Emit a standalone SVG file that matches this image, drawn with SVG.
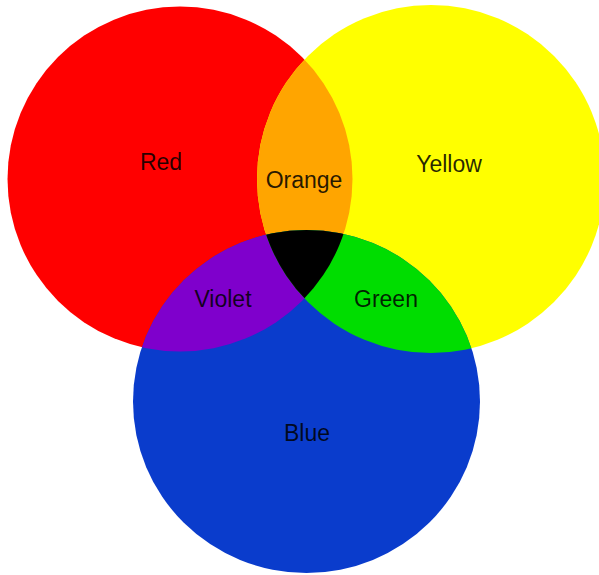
<svg xmlns="http://www.w3.org/2000/svg" width="599" height="575" viewBox="0 0 599 575">
  <style>
    text { font-family: "Liberation Sans", Arial, sans-serif; font-size: 23px; fill: #000; fill-opacity: 0.85; text-anchor: middle; }
  </style>
  <defs>
    <clipPath id="cY"><circle cx="431" cy="179" r="174"/></clipPath>
    <clipPath id="cB"><ellipse cx="306.5" cy="401.5" rx="173.5" ry="171.5"/></clipPath>
  </defs>
  <rect width="599" height="575" fill="#fff"/>
  <g id="red"><circle cx="180" cy="179" r="172.5" fill="#FF0000"/></g>
  <g id="yellow"><circle cx="431" cy="179" r="174" fill="#FFFF00"/></g>
  <g id="blue"><ellipse cx="306.5" cy="401.5" rx="173.5" ry="171.5" fill="#0A3CCC"/></g>
  <g id="orange" clip-path="url(#cY)"><circle cx="180" cy="179" r="172.5" fill="#FFA500"/></g>
  <g id="violet" clip-path="url(#cB)"><circle cx="180" cy="179" r="172.5" fill="#7F00CC"/></g>
  <g id="green" clip-path="url(#cB)"><circle cx="431" cy="179" r="174" fill="#00DD00"/></g>
  <g id="black" clip-path="url(#cB)"><g clip-path="url(#cY)"><circle cx="180" cy="179" r="172.5" fill="#000"/></g></g>
  <g id="labels">
    <text x="161" y="170">Red</text>
    <text x="449" y="172">Yellow</text>
    <text x="304" y="188">Orange</text>
    <text x="223" y="307">Violet</text>
    <text x="386" y="307">Green</text>
    <text x="307" y="441">Blue</text>
  </g>
</svg>
